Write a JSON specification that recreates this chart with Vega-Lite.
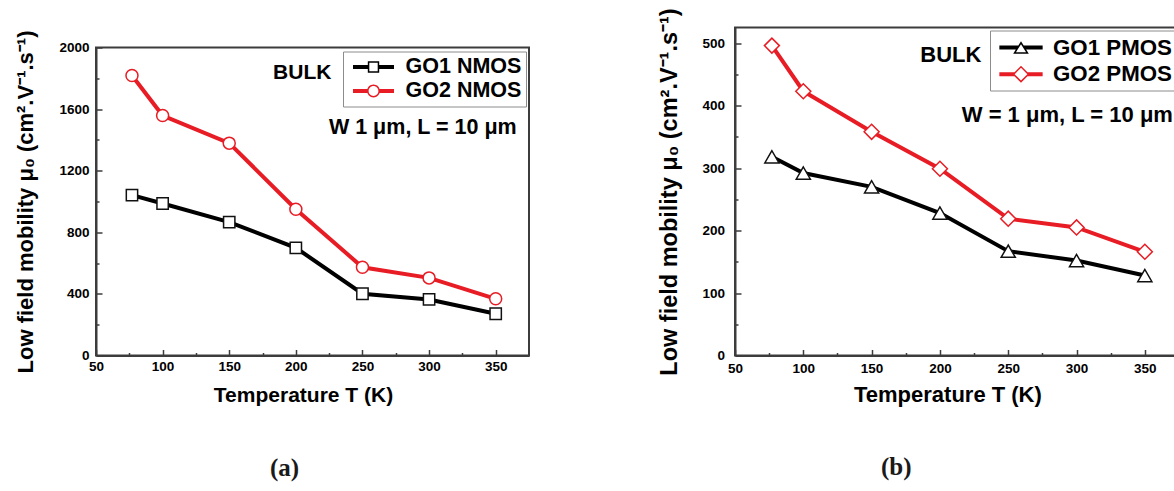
{
  "$schema": "https://vega.github.io/schema/vega-lite/v6.json",
  "background": "white",
  "padding": {"left": 13, "top": 6.5, "right": -6, "bottom": 0},
  "datasets": {
    "nmos": [
      {"T": 77, "mu": 1041, "series": "GO1 NMOS"},
      {"T": 100, "mu": 987, "series": "GO1 NMOS"},
      {"T": 150, "mu": 866, "series": "GO1 NMOS"},
      {"T": 200, "mu": 699, "series": "GO1 NMOS"},
      {"T": 250, "mu": 401, "series": "GO1 NMOS"},
      {"T": 300, "mu": 364, "series": "GO1 NMOS"},
      {"T": 350, "mu": 271, "series": "GO1 NMOS"},
      {"T": 77, "mu": 1818, "series": "GO2 NMOS"},
      {"T": 100, "mu": 1558, "series": "GO2 NMOS"},
      {"T": 150, "mu": 1379, "series": "GO2 NMOS"},
      {"T": 200, "mu": 950, "series": "GO2 NMOS"},
      {"T": 250, "mu": 573, "series": "GO2 NMOS"},
      {"T": 300, "mu": 504, "series": "GO2 NMOS"},
      {"T": 350, "mu": 368, "series": "GO2 NMOS"}
    ],
    "pmos": [
      {"T": 77, "mu": 318, "series": "GO1 PMOS"},
      {"T": 100, "mu": 292, "series": "GO1 PMOS"},
      {"T": 150, "mu": 270, "series": "GO1 PMOS"},
      {"T": 200, "mu": 228, "series": "GO1 PMOS"},
      {"T": 250, "mu": 167, "series": "GO1 PMOS"},
      {"T": 300, "mu": 152, "series": "GO1 PMOS"},
      {"T": 350, "mu": 128, "series": "GO1 PMOS"},
      {"T": 77, "mu": 496, "series": "GO2 PMOS"},
      {"T": 100, "mu": 423, "series": "GO2 PMOS"},
      {"T": 150, "mu": 358, "series": "GO2 PMOS"},
      {"T": 200, "mu": 299, "series": "GO2 PMOS"},
      {"T": 250, "mu": 219, "series": "GO2 PMOS"},
      {"T": 300, "mu": 205, "series": "GO2 PMOS"},
      {"T": 350, "mu": 166, "series": "GO2 PMOS"}
    ]
  },
  "config": {
    "font": "Liberation Sans",
    "view": {"stroke": "#3c3c3c", "strokeWidth": 2},
    "axis": {
      "grid": false,
      "domainColor": "#3c3c3c",
      "domainWidth": 2,
      "tickColor": "#3c3c3c",
      "tickWidth": 1.5,
      "labelFont": "Liberation Sans",
      "labelFontWeight": "bold",
      "labelFontSize": 13.5,
      "labelColor": "#000000",
      "titleFont": "Liberation Sans",
      "titleFontWeight": "bold",
      "titleColor": "#000000",
      "labelOverlap": false,
      "labelFlush": false
    },
    "legend": {
      "title": null,
      "orient": "top-right",
      "strokeColor": "#8c8c8c",
      "fillColor": "white",
      "symbolStrokeWidth": 0,
      "symbolOpacity": 1,
      "labelFont": "Liberation Sans",
      "labelFontWeight": "bold",
      "labelColor": "#000000",
      "labelLimit": 400
    }
  },
  "resolve": {
    "scale": {"color": "independent", "shape": "independent"},
    "legend": {"color": "independent", "shape": "independent"}
  },
  "spacing": 126,
  "hconcat": [
    {
      "title": {"text": "(a)", "orient": "bottom", "font": "Liberation Serif", "fontSize": 25, "fontWeight": "bold", "color": "#1a1a1a", "offset": 50, "anchor": "start", "dx": 256},
      "spacing": 0,
      "resolve": {
        "scale": {"color": "independent", "shape": "independent"},
        "legend": {"color": "independent", "shape": "independent"}
      },
      "vconcat": [
        {
          "width": 433,
          "height": 1,
          "view": {"stroke": null},
          "data": {"values": []},
          "mark": {"type": "point", "opacity": 0},
          "encoding": {}
        },
        {
          "width": 433,
          "height": 308,
          "data": {"name": "nmos"},
          "encoding": {
            "x": {
              "field": "T", "type": "quantitative",
              "scale": {"domain": [50, 375], "nice": false, "zero": false},
              "axis": {
                "title": "Temperature T (K)",
                "values": [50, 75, 100, 125, 150, 175, 200, 225, 250, 275, 300, 325, 350],
                "labelExpr": "datum.value % 50 === 0 ? datum.label : ''",
                "format": "d",
                "tickSize": {"condition": {"test": "datum.value % 50 !== 0", "value": -3}, "value": -6},
                "labelPadding": 10,
                "titleFontSize": 21,
                "titlePadding": 8,
                "titleX": 207
              }
            },
            "y": {
              "field": "mu", "type": "quantitative",
              "scale": {"domain": [0, 2000], "nice": false},
              "axis": {
                "title": "Low field mobility μ₀ (cm².V⁻¹.s⁻¹)",
                "values": [0, 200, 400, 600, 800, 1000, 1200, 1400, 1600, 1800, 2000],
                "labelExpr": "datum.value % 400 === 0 ? datum.label : ''",
                "format": "d",
                "tickSize": {"condition": {"test": "datum.value % 400 !== 0", "value": -3}, "value": -6},
                "labelPadding": 13,
                "titleFontSize": 22,
                "titlePadding": 21
              }
            }
          },
          "layer": [
            {
              "transform": [{"filter": "datum.series === 'GO1 NMOS'"}],
              "mark": {"type": "line", "strokeWidth": 4, "stroke": "#000000"}
            },
            {
              "transform": [{"filter": "datum.series === 'GO2 NMOS'"}],
              "mark": {"type": "line", "strokeWidth": 4, "stroke": "#e81c24"}
            },
            {
              "transform": [{"filter": "datum.series === 'GO1 NMOS'"}],
              "mark": {"type": "point", "shape": "square", "size": 128, "filled": true, "fill": "white", "stroke": "#111111", "strokeWidth": 1.5, "opacity": 1}
            },
            {
              "transform": [{"filter": "datum.series === 'GO2 NMOS'"}],
              "mark": {"type": "point", "shape": "circle", "size": 144, "filled": true, "fill": "white", "stroke": "#e81c24", "strokeWidth": 1.5, "opacity": 1}
            },
            {
              "mark": {"type": "point", "filled": true, "size": 484, "opacity": 0},
              "encoding": {
                "color": {"field": "series", "type": "nominal", "scale": {"domain": ["GO1 NMOS", "GO2 NMOS"], "range": ["#000000", "#e81c24"]},
                  "legend": {"offset": 3.5, "padding": 4.5, "rowPadding": 2, "symbolSize": 484, "symbolOffset": 15, "labelOffset": 21, "labelFontSize": 21.5}},
                "shape": {"field": "series", "type": "nominal", "scale": {"domain": ["GO1 NMOS", "GO2 NMOS"], "range": [
                  "M-1.864,-0.18L-0.518,-0.18L-0.518,0.18L-1.864,0.18Z M0.518,-0.18L1.864,-0.18L1.864,0.18L0.518,0.18Z M-0.518,-0.518L0.518,-0.518L0.518,0.518L-0.518,0.518Z M-0.382,-0.382L-0.382,0.382L0.382,0.382L0.382,-0.382Z",
                  "M-1.864,-0.18L-0.55,-0.18L-0.55,0.18L-1.864,0.18Z M0.55,-0.18L1.864,-0.18L1.864,0.18L0.55,0.18Z M0.582,0A0.582,0.582 0 1,1 -0.582,0A0.582,0.582 0 1,1 0.582,0Z M0.445,0A0.445,0.445 0 1,0 -0.445,0A0.445,0.445 0 1,0 0.445,0Z"
                ]}}
              }
            },
            {
              "transform": [{"filter": "datum.T === 77 && datum.series === 'GO1 NMOS'"}],
              "mark": {"type": "text", "text": "BULK", "font": "Liberation Sans", "fontWeight": "bold", "fontSize": 21, "align": "center", "baseline": "middle", "fill": "#000000", "opacity": 1},
              "encoding": {"x": {"datum": 204.8, "type": "quantitative"}, "y": {"datum": 1833, "type": "quantitative"}}
            },
            {
              "transform": [{"filter": "datum.T === 77 && datum.series === 'GO1 NMOS'"}],
              "mark": {"type": "text", "text": "W 1 μm, L = 10 μm", "font": "Liberation Sans", "fontWeight": "bold", "fontSize": 21.5, "align": "center", "baseline": "middle", "fill": "#000000", "opacity": 1},
              "encoding": {"x": {"datum": 295.3, "type": "quantitative"}, "y": {"datum": 1476, "type": "quantitative"}}
            }
          ]
        }
      ]
    },
    {
      "title": {"text": "(b)", "orient": "bottom", "font": "Liberation Serif", "fontSize": 25, "fontWeight": "bold", "color": "#1a1a1a", "offset": 48.5, "anchor": "start", "dx": 224},
      "resolve": {
        "scale": {"color": "independent", "shape": "independent"},
        "legend": {"color": "independent", "shape": "independent"}
      },
      "vconcat": [
        {
          "width": 444,
          "height": 328,
          "data": {"name": "pmos"},
          "encoding": {
            "x": {
              "field": "T", "type": "quantitative",
              "scale": {"domain": [50, 375], "nice": false, "zero": false},
              "axis": {
                "title": "Temperature T (K)",
                "values": [50, 75, 100, 125, 150, 175, 200, 225, 250, 275, 300, 325, 350],
                "labelExpr": "datum.value % 50 === 0 ? datum.label : ''",
                "format": "d",
                "tickSize": {"condition": {"test": "datum.value % 50 !== 0", "value": -3}, "value": -6},
                "labelPadding": 11.5,
                "titleFontSize": 22,
                "titlePadding": 7,
                "titleX": 212.4
              }
            },
            "y": {
              "field": "mu", "type": "quantitative",
              "scale": {"domain": [0, 525], "nice": false},
              "axis": {
                "title": "Low field mobility μ₀ (cm².V⁻¹.s⁻¹)",
                "values": [0, 50, 100, 150, 200, 250, 300, 350, 400, 450, 500],
                "labelExpr": "datum.value % 100 === 0 ? datum.label : ''",
                "format": "d",
                "tickSize": {"condition": {"test": "datum.value % 100 !== 0", "value": -3}, "value": -6},
                "labelPadding": 16.5,
                "titleFontSize": 23.5,
                "titlePadding": 20
              }
            }
          },
          "layer": [
            {
              "transform": [{"filter": "datum.series === 'GO1 PMOS'"}],
              "mark": {"type": "line", "strokeWidth": 4, "stroke": "#000000"}
            },
            {
              "transform": [{"filter": "datum.series === 'GO2 PMOS'"}],
              "mark": {"type": "line", "strokeWidth": 4, "stroke": "#e81c24"}
            },
            {
              "transform": [{"filter": "datum.series === 'GO1 PMOS'"}],
              "mark": {"type": "point", "shape": "triangle-up", "size": 200, "filled": true, "fill": "white", "stroke": "#111111", "strokeWidth": 1.5, "opacity": 1}
            },
            {
              "transform": [{"filter": "datum.series === 'GO2 PMOS'"}],
              "mark": {"type": "point", "shape": "diamond", "size": 225, "filled": true, "fill": "white", "stroke": "#e81c24", "strokeWidth": 1.5, "opacity": 1}
            },
            {
              "mark": {"type": "point", "filled": true, "size": 576, "opacity": 0},
              "encoding": {
                "color": {"field": "series", "type": "nominal", "scale": {"domain": ["GO1 PMOS", "GO2 PMOS"], "range": ["#000000", "#e81c24"]},
                  "legend": {"offset": 2.5, "padding": 5, "rowPadding": 2.7, "symbolSize": 576, "symbolOffset": 14, "labelOffset": 20, "labelFontSize": 22.3}},
                "shape": {"field": "series", "type": "nominal", "scale": {"domain": ["GO1 PMOS", "GO2 PMOS"], "range": [
                  "M-1.804,-0.167L-0.071,-0.167L-0.283,0.167L-1.804,0.167Z M0.071,-0.167L1.804,-0.167L1.804,0.167L0.283,0.167Z M0,-0.512L0.65,0.512L-0.65,0.512Z M0,-0.279L-0.4225,0.387L0.4225,0.387Z",
                  "M-1.804,-0.167L-0.364,-0.167L-0.531,0L-0.364,0.167L-1.804,0.167Z M0.364,-0.167L1.804,-0.167L1.804,0.167L0.364,0.167L0.531,0Z M-0.708,0L0,-0.708L0.708,0L0,0.708Z M-0.531,0L0,0.531L0.531,0L0,-0.531Z"
                ]}}
              }
            },
            {
              "transform": [{"filter": "datum.T === 77 && datum.series === 'GO1 PMOS'"}],
              "mark": {"type": "text", "text": "BULK", "font": "Liberation Sans", "fontWeight": "bold", "fontSize": 22, "align": "center", "baseline": "middle", "fill": "#000000", "opacity": 1},
              "encoding": {"x": {"datum": 208, "type": "quantitative"}, "y": {"datum": 480.5, "type": "quantitative"}}
            },
            {
              "transform": [{"filter": "datum.T === 77 && datum.series === 'GO1 PMOS'"}],
              "mark": {"type": "text", "text": "W = 1 μm, L = 10 μm", "font": "Liberation Sans", "fontWeight": "bold", "fontSize": 22, "align": "left", "baseline": "middle", "fill": "#000000", "opacity": 1},
              "encoding": {"x": {"datum": 216, "type": "quantitative"}, "y": {"datum": 385, "type": "quantitative"}}
            }
          ]
        }
      ]
    }
  ]
}
